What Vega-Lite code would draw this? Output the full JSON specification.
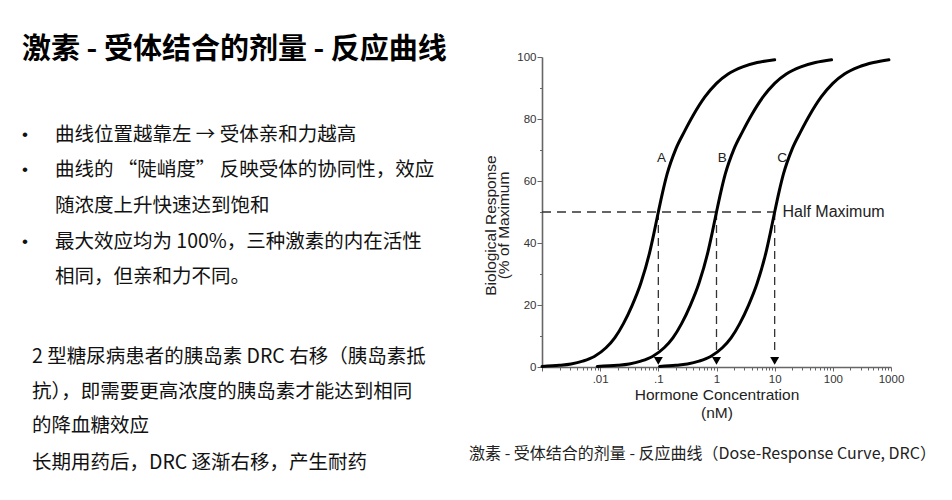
{
  "$schema": "https://vega.github.io/schema/vega-lite/v6.json",
  "background": "white",
  "padding": {"left": 0, "top": 36, "right": 0, "bottom": 16},
  "bounds": "flush",
  "spacing": 72,
  "config": {
    "font": "Liberation Sans",
    "view": {"stroke": null}
  },
  "hconcat": [
    {
      "width": 470,
      "height": 310,
      "data": {
        "values": [
          {"kind": "title", "indent": 1.1, "row": 1.36, "text": "激素 - 受体结合的剂量 - 反应曲线"},
          {"kind": "dot", "indent": 1.25, "row": 3.75, "text": "•"},
          {"kind": "dot", "indent": 1.25, "row": 4.73, "text": "•"},
          {"kind": "dot", "indent": 1.25, "row": 6.76, "text": "•"},
          {"kind": "body", "indent": 2.75, "row": 3.75, "text": "曲线位置越靠左 → 受体亲和力越高"},
          {"kind": "body", "indent": 2.75, "row": 4.73, "text": "曲线的 “陡峭度” 反映受体的协同性，效应"},
          {"kind": "body", "indent": 2.75, "row": 5.75, "text": "随浓度上升快速达到饱和"},
          {"kind": "body", "indent": 2.75, "row": 6.76, "text": "最大效应均为 100%，三种激素的内在活性"},
          {"kind": "body", "indent": 2.75, "row": 7.75, "text": "相同，但亲和力不同。"},
          {"kind": "body", "indent": 1.6, "row": 10.0, "text": "2 型糖尿病患者的胰岛素 DRC 右移（胰岛素抵"},
          {"kind": "body", "indent": 1.6, "row": 10.99, "text": "抗），即需要更高浓度的胰岛素才能达到相同"},
          {"kind": "body", "indent": 1.6, "row": 11.94, "text": "的降血糖效应"},
          {"kind": "body", "indent": 1.6, "row": 12.99, "text": "长期用药后，DRC 逐渐右移，产生耐药"}
        ]
      },
      "encoding": {
        "x": {"field": "indent", "type": "quantitative", "scale": {"domain": [0, 23.5], "nice": false, "zero": false}, "axis": null},
        "y": {"field": "row", "type": "quantitative", "scale": {"domain": [1.55, 10.282], "nice": false, "zero": false, "reverse": true}, "axis": null},
        "text": {"field": "text", "type": "nominal"}
      },
      "layer": [
        {
          "transform": [{"filter": "datum.kind === 'title'"}],
          "mark": {"type": "text", "align": "left", "baseline": "middle", "font": "Noto Sans CJK SC", "fontSize": 29, "fontWeight": "bold", "color": "#000000"}
        },
        {
          "transform": [{"filter": "datum.kind === 'dot'"}],
          "mark": {"type": "text", "align": "center", "baseline": "middle", "font": "Liberation Sans", "fontSize": 17, "color": "#111111"}
        },
        {
          "transform": [{"filter": "datum.kind === 'body'"}],
          "mark": {"type": "text", "align": "left", "baseline": "middle", "font": "Noto Sans CJK SC", "fontSize": 19.5, "color": "#111111"}
        }
      ]
    },
    {
      "width": 349,
      "height": 310,
      "title": {
        "text": "激素 - 受体结合的剂量 - 反应曲线（Dose-Response Curve, DRC）",
        "orient": "bottom",
        "anchor": "middle",
        "frame": "group",
        "dx": -14,
        "offset": 25,
        "font": "Noto Sans CJK SC",
        "fontSize": 16,
        "fontWeight": "normal",
        "color": "#222222"
      },
      "data": {
        "values": [
          {"kind": "half", "conc": 0.001, "conc2": 10, "resp": 50},
          {"kind": "drop", "conc": 0.1, "resp": 50, "resp2": 4},
          {"kind": "drop", "conc": 1, "resp": 50, "resp2": 4},
          {"kind": "drop", "conc": 10, "resp": 50, "resp2": 4},
          {"kind": "curve", "curve": "A", "conc": 0.001, "resp": 0.2},
          {"kind": "curve", "curve": "A", "conc": 0.002, "resp": 0.55},
          {"kind": "curve", "curve": "A", "conc": 0.00316, "resp": 1.0},
          {"kind": "curve", "curve": "A", "conc": 0.00501, "resp": 1.9},
          {"kind": "curve", "curve": "A", "conc": 0.00794, "resp": 3.4},
          {"kind": "curve", "curve": "A", "conc": 0.0126, "resp": 6.2},
          {"kind": "curve", "curve": "A", "conc": 0.0178, "resp": 9.4},
          {"kind": "curve", "curve": "A", "conc": 0.0251, "resp": 14.0},
          {"kind": "curve", "curve": "A", "conc": 0.0355, "resp": 19.9},
          {"kind": "curve", "curve": "A", "conc": 0.0501, "resp": 27.1},
          {"kind": "curve", "curve": "A", "conc": 0.0708, "resp": 36.9},
          {"kind": "curve", "curve": "A", "conc": 0.0841, "resp": 43.2},
          {"kind": "curve", "curve": "A", "conc": 0.1, "resp": 50},
          {"kind": "curve", "curve": "A", "conc": 0.1189, "resp": 56.5},
          {"kind": "curve", "curve": "A", "conc": 0.1413, "resp": 62.2},
          {"kind": "curve", "curve": "A", "conc": 0.1995, "resp": 70.3},
          {"kind": "curve", "curve": "A", "conc": 0.2818, "resp": 76.0},
          {"kind": "curve", "curve": "A", "conc": 0.398, "resp": 81.2},
          {"kind": "curve", "curve": "A", "conc": 0.631, "resp": 87.1},
          {"kind": "curve", "curve": "A", "conc": 1.0, "resp": 91.5},
          {"kind": "curve", "curve": "A", "conc": 1.585, "resp": 94.5},
          {"kind": "curve", "curve": "A", "conc": 2.818, "resp": 96.8},
          {"kind": "curve", "curve": "A", "conc": 5.012, "resp": 98.2},
          {"kind": "curve", "curve": "A", "conc": 10, "resp": 99.1},
          {"kind": "curve", "curve": "B", "conc": 0.0089, "resp": 0.2},
          {"kind": "curve", "curve": "B", "conc": 0.01995, "resp": 0.55},
          {"kind": "curve", "curve": "B", "conc": 0.0316, "resp": 1.0},
          {"kind": "curve", "curve": "B", "conc": 0.0501, "resp": 1.9},
          {"kind": "curve", "curve": "B", "conc": 0.0794, "resp": 3.4},
          {"kind": "curve", "curve": "B", "conc": 0.126, "resp": 6.2},
          {"kind": "curve", "curve": "B", "conc": 0.178, "resp": 9.4},
          {"kind": "curve", "curve": "B", "conc": 0.251, "resp": 14.0},
          {"kind": "curve", "curve": "B", "conc": 0.355, "resp": 19.9},
          {"kind": "curve", "curve": "B", "conc": 0.501, "resp": 27.1},
          {"kind": "curve", "curve": "B", "conc": 0.708, "resp": 36.9},
          {"kind": "curve", "curve": "B", "conc": 0.841, "resp": 43.2},
          {"kind": "curve", "curve": "B", "conc": 1, "resp": 50},
          {"kind": "curve", "curve": "B", "conc": 1.189, "resp": 56.5},
          {"kind": "curve", "curve": "B", "conc": 1.413, "resp": 62.2},
          {"kind": "curve", "curve": "B", "conc": 1.995, "resp": 70.3},
          {"kind": "curve", "curve": "B", "conc": 2.818, "resp": 76.0},
          {"kind": "curve", "curve": "B", "conc": 3.98, "resp": 81.2},
          {"kind": "curve", "curve": "B", "conc": 6.31, "resp": 87.1},
          {"kind": "curve", "curve": "B", "conc": 10, "resp": 91.5},
          {"kind": "curve", "curve": "B", "conc": 15.85, "resp": 94.5},
          {"kind": "curve", "curve": "B", "conc": 28.18, "resp": 96.8},
          {"kind": "curve", "curve": "B", "conc": 50.1, "resp": 98.2},
          {"kind": "curve", "curve": "B", "conc": 95, "resp": 99.1},
          {"kind": "curve", "curve": "C", "conc": 0.105, "resp": 0.2},
          {"kind": "curve", "curve": "C", "conc": 0.1995, "resp": 0.55},
          {"kind": "curve", "curve": "C", "conc": 0.316, "resp": 1.0},
          {"kind": "curve", "curve": "C", "conc": 0.501, "resp": 1.9},
          {"kind": "curve", "curve": "C", "conc": 0.794, "resp": 3.4},
          {"kind": "curve", "curve": "C", "conc": 1.26, "resp": 6.2},
          {"kind": "curve", "curve": "C", "conc": 1.78, "resp": 9.4},
          {"kind": "curve", "curve": "C", "conc": 2.51, "resp": 14.0},
          {"kind": "curve", "curve": "C", "conc": 3.55, "resp": 19.9},
          {"kind": "curve", "curve": "C", "conc": 5.01, "resp": 27.1},
          {"kind": "curve", "curve": "C", "conc": 7.08, "resp": 36.9},
          {"kind": "curve", "curve": "C", "conc": 8.41, "resp": 43.2},
          {"kind": "curve", "curve": "C", "conc": 10, "resp": 50},
          {"kind": "curve", "curve": "C", "conc": 11.89, "resp": 56.5},
          {"kind": "curve", "curve": "C", "conc": 14.13, "resp": 62.2},
          {"kind": "curve", "curve": "C", "conc": 19.95, "resp": 70.3},
          {"kind": "curve", "curve": "C", "conc": 28.18, "resp": 76.0},
          {"kind": "curve", "curve": "C", "conc": 39.8, "resp": 81.2},
          {"kind": "curve", "curve": "C", "conc": 63.1, "resp": 87.1},
          {"kind": "curve", "curve": "C", "conc": 100, "resp": 91.5},
          {"kind": "curve", "curve": "C", "conc": 158.5, "resp": 94.5},
          {"kind": "curve", "curve": "C", "conc": 281.8, "resp": 96.8},
          {"kind": "curve", "curve": "C", "conc": 501, "resp": 98.2},
          {"kind": "curve", "curve": "C", "conc": 920, "resp": 99.1},
          {"kind": "arrow", "conc": 0.1, "resp": 2},
          {"kind": "arrow", "conc": 1, "resp": 2},
          {"kind": "arrow", "conc": 10, "resp": 2},
          {"kind": "label", "conc": 0.1135, "resp": 67.5, "text": "A"},
          {"kind": "label", "conc": 1.25, "resp": 67.5, "text": "B"},
          {"kind": "label", "conc": 13.5, "resp": 67.5, "text": "C"},
          {"kind": "note", "conc": 13.6, "resp": 50, "text": "Half Maximum"}
        ]
      },
      "encoding": {
        "x": {
          "field": "conc",
          "type": "quantitative",
          "scale": {"type": "log", "domain": [0.001, 1000], "nice": false},
          "axis": {
            "title": ["Hormone Concentration", "(nM)"],
            "titleFont": "Liberation Sans",
            "titleFontSize": 15.5,
            "titleFontWeight": "normal",
            "titleColor": "#222222",
            "titleLineHeight": 18,
            "titlePadding": 3,
            "values": [0.001, 0.002, 0.003, 0.004, 0.005, 0.006, 0.007, 0.008, 0.009,
                       0.01, 0.02, 0.03, 0.04, 0.05, 0.06, 0.07, 0.08, 0.09,
                       0.1, 0.2, 0.3, 0.4, 0.5, 0.6, 0.7, 0.8, 0.9,
                       1, 2, 3, 4, 5, 6, 7, 8, 9,
                       10, 20, 30, 40, 50, 60, 70, 80, 90,
                       100, 200, 300, 400, 500, 600, 700, 800, 900, 1000],
            "labelExpr": "datum.value === 0.01 ? '.01' : datum.value === 0.1 ? '.1' : datum.value === 1 ? '1' : datum.value === 10 ? '10' : datum.value === 100 ? '100' : datum.value === 1000 ? '1000' : ''",
            "labelFlush": false,
            "labelOverlap": false,
            "labelFontSize": 11.5,
            "labelColor": "#333333",
            "labelPadding": 2,
            "grid": false,
            "domainColor": "#666666",
            "domainWidth": 1.6,
            "tickColor": "#666666",
            "tickWidth": 1,
            "tickSize": {"condition": {"test": "indexof([0.001, 0.01, 0.1, 1, 10, 100, 1000], datum.value) >= 0", "value": 4}, "value": 3}
          }
        },
        "y": {
          "field": "resp",
          "type": "quantitative",
          "scale": {"domain": [0, 100], "nice": false},
          "axis": {
            "title": ["Biological Response", "(% of Maximum"],
            "titleFont": "Liberation Sans",
            "titleFontSize": 15.5,
            "titleFontWeight": "normal",
            "titleColor": "#222222",
            "titleLineHeight": 13.5,
            "titlePadding": 5,
            "titleY": 168,
            "values": [0, 10, 20, 30, 40, 50, 60, 70, 80, 90, 100],
            "labelExpr": "datum.value % 20 === 0 ? datum.label : ''",
            "labelFontSize": 11.5,
            "labelColor": "#333333",
            "labelPadding": 1,
            "labelOverlap": false,
            "grid": false,
            "domainColor": "#666666",
            "domainWidth": 1.6,
            "tickColor": "#666666",
            "tickWidth": 1,
            "tickSize": {"condition": {"test": "datum.value % 20 === 0", "value": 5}, "value": 2.5}
          }
        }
      },
      "layer": [
        {
          "transform": [{"filter": "datum.kind === 'half'"}],
          "mark": {"type": "rule", "stroke": "#333333", "strokeWidth": 1.3, "strokeDash": [9, 6]},
          "encoding": {"x2": {"field": "conc2"}}
        },
        {
          "transform": [{"filter": "datum.kind === 'drop'"}],
          "mark": {"type": "rule", "stroke": "#333333", "strokeWidth": 1.3, "strokeDash": [8, 5]},
          "encoding": {"y2": {"field": "resp2"}}
        },
        {
          "transform": [{"filter": "datum.kind === 'curve'"}],
          "mark": {"type": "line", "stroke": "#000000", "strokeWidth": 3, "interpolate": "monotone", "strokeCap": "round"},
          "encoding": {"detail": {"field": "curve", "type": "nominal"}}
        },
        {
          "transform": [{"filter": "datum.kind === 'arrow'"}],
          "mark": {"type": "point", "shape": "triangle-down", "filled": true, "color": "#000000", "size": 80, "opacity": 1}
        },
        {
          "transform": [{"filter": "datum.kind === 'label'"}],
          "mark": {"type": "text", "align": "center", "baseline": "middle", "font": "Liberation Sans", "fontSize": 13.5, "color": "#222222"},
          "encoding": {"text": {"field": "text", "type": "nominal"}}
        },
        {
          "transform": [{"filter": "datum.kind === 'note'"}],
          "mark": {"type": "text", "align": "left", "baseline": "middle", "font": "Liberation Sans", "fontSize": 16, "color": "#222222"},
          "encoding": {"text": {"field": "text", "type": "nominal"}}
        }
      ]
    }
  ]
}
